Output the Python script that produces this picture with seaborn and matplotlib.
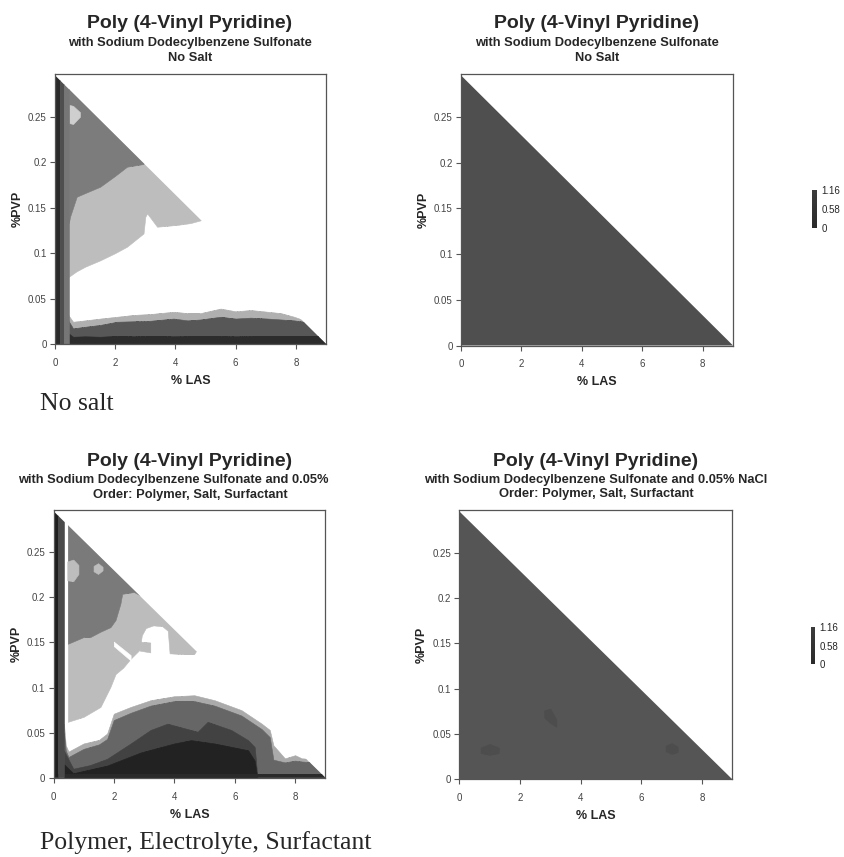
import matplotlib
matplotlib.use("Agg")
import matplotlib.pyplot as plt
from matplotlib.patches import Polygon
from matplotlib.cm import ScalarMappable
from matplotlib.colors import Normalize
import seaborn as sns

# composition range (triangle of allowed compositions)
LAS_MAX = 9.0
PVP_MAX = 0.2955
X_TICKS = [0, 2, 4, 6, 8]
Y_TICKS = [0, 0.05, 0.1, 0.15, 0.2, 0.25]
Y_TICK_LABELS = ["0", "0.05", "0.1", "0.15", "0.2", "0.25"]
CBAR_TICKS = [0, 0.58, 1.16]
CBAR_LABELS = ["0", "0.58", "1.16"]

TITLE = "Poly (4-Vinyl Pyridine)"
SUB_A = ["with Sodium Dodecylbenzene Sulfonate", "No Salt"]
SUB_C = ["with Sodium Dodecylbenzene Sulfonate and 0.05%", "Order: Polymer, Salt, Surfactant"]
SUB_D = ["with Sodium Dodecylbenzene Sulfonate and 0.05% NaCl", "Order: Polymer, Salt, Surfactant"]
NOTE_TOP = "No salt"
NOTE_BOTTOM = "Polymer, Electrolyte, Surfactant"

# ---- panel A : no salt, contour bands (x = %LAS, y = %PVP boundary)
A_STRIP_X = [0, 0.15, 0.3, 0.46]
A_STRIP_C = ["#2a2a2a", "#4e4e4e", "#767676"]

A_BASE_X = [0.44, 0.6, 1.0, 1.5, 2.06, 2.61, 3.17, 3.94, 4.4, 4.83, 5.5, 6.0, 6.5, 7.06, 7.5, 7.94, 8.28, 9.0]
A_LIGHT_TOP = [0.032, 0.0245, 0.026, 0.028, 0.030, 0.032, 0.033, 0.0355, 0.034, 0.034, 0.039, 0.036, 0.0374, 0.0355, 0.034, 0.030, 0.026, 0.02]
A_DARK_TOP = [0.026, 0.0172, 0.019, 0.021, 0.0245, 0.025, 0.0256, 0.028, 0.026, 0.027, 0.030, 0.028, 0.029, 0.028, 0.027, 0.026, 0.0245, 0.02]
A_BLACK_TOP = [0.012, 0.008, 0.0085, 0.008, 0.009, 0.0085, 0.009, 0.0085, 0.009, 0.009, 0.009, 0.0085, 0.009, 0.009, 0.009, 0.009, 0.009, 0.009]

A_UP_X = [0.46, 0.72, 1.0, 1.5, 2.0, 2.39, 2.94, 3.0, 3.06, 3.39, 4.06, 4.5, 4.83, 5.2]
A_LIGHT_LOW = [0.074, 0.080, 0.085, 0.092, 0.100, 0.107, 0.1216, 0.14, 0.1436, 0.129, 0.131, 0.133, 0.136, 0.15]
A_DARK_X = [0.46, 0.5, 0.72, 1.0, 1.5, 2.0, 2.39, 2.94, 3.3]
A_DARK_LOW = [0.133, 0.14, 0.162, 0.166, 0.173, 0.185, 0.195, 0.198, 0.26]
A_PATCH_X = [0.47, 0.6, 0.83]
A_PATCH_LOW = [0.243, 0.242, 0.25]
A_PATCH_HIGH = [0.263, 0.262, 0.255]

# ---- panel C : polymer, salt, surfactant
C_STRIP_X = [0, 0.15, 0.34]
C_STRIP_C = ["#1e1e1e", "#4a4a4a"]

C_MOUND_X = [0.34, 0.4, 0.49, 0.99, 1.5, 1.77, 1.99, 2.55, 3.21, 3.99, 4.66, 5.33, 6.22, 6.89, 7.16, 7.28, 7.66, 8.0, 8.22, 9.0]
C_LIGHT_TOP = [0.06, 0.036, 0.029, 0.038, 0.042, 0.049, 0.071, 0.0785, 0.086, 0.0904, 0.0915, 0.086, 0.075, 0.060, 0.053, 0.036, 0.0215, 0.025, 0.0215, 0.02]
C_MID_TOP = [0.05, 0.03, 0.023, 0.032, 0.037, 0.043, 0.064, 0.072, 0.080, 0.085, 0.085, 0.080, 0.069, 0.054, 0.045, 0.020, 0.017, 0.019, 0.018, 0.016]
C_DEEP_X = [0.34, 0.65, 1.2, 1.77, 2.55, 3.21, 3.77, 4.21, 4.77, 5.1, 5.88, 6.44, 6.66, 6.7, 6.75]
C_DEEP_TOP = [0.03, 0.010, 0.014, 0.021, 0.038, 0.053, 0.060, 0.056, 0.051, 0.062, 0.053, 0.0417, 0.034, 0.02, 0.0]
C_BLACK_X = [0.34, 0.65, 1.77, 2.88, 3.99, 4.55, 5.33, 6.44, 6.66, 6.7, 6.75]
C_BLACK_TOP = [0.015, 0.005, 0.0135, 0.028, 0.038, 0.0417, 0.038, 0.0305, 0.019, 0.01, 0.0]

C_UP_X = [0.47, 0.99, 1.55, 1.88, 2.05, 2.3, 2.55, 2.85, 2.92, 3.05, 3.3, 3.6, 3.78, 3.84, 4.3, 4.65, 4.9]
C_LIGHT_LOW = [0.062, 0.0675, 0.0785, 0.1007, 0.115, 0.122, 0.132, 0.142, 0.158, 0.166, 0.169, 0.168, 0.163, 0.138, 0.137, 0.137, 0.15]
C_DARK_X = [0.47, 0.99, 1.21, 1.55, 1.88, 2.05, 2.21, 2.27, 2.66, 3.0, 3.2]
C_DARK_LOW = [0.1486, 0.156, 0.156, 0.162, 0.167, 0.175, 0.193, 0.204, 0.206, 0.2, 0.25]
C_UNDER_X = [2.85, 3.2]
C_UNDER_LOW = [0.141, 0.139]
C_UNDER_HIGH = [0.151, 0.150]
C_FINGER_X = [1.99, 2.55]
C_FINGER_LOW = [0.146, 0.130]
C_FINGER_HIGH = [0.151, 0.136]
C_PATCH1_X = [0.45, 0.65, 0.82]
C_PATCH1_LOW = [0.219, 0.218, 0.226]
C_PATCH1_HIGH = [0.240, 0.242, 0.236]
C_PATCH2_X = [1.32, 1.47, 1.62]
C_PATCH2_LOW = [0.229, 0.226, 0.230]
C_PATCH2_HIGH = [0.235, 0.238, 0.234]

# ---- panels B and D : uniform response
B_COLOR = "#4f4f4f"
D_COLOR = "#555555"
D_SPOT_X = [[0.7, 1.0, 1.3], [2.8, 3.0, 3.2], [6.8, 7.0, 7.2]]
D_SPOT_LOW = [[0.029, 0.027, 0.029], [0.068, 0.062, 0.058], [0.031, 0.028, 0.030]]
D_SPOT_HIGH = [[0.035, 0.039, 0.035], [0.076, 0.078, 0.066], [0.037, 0.040, 0.036]]

W, H = 845, 857
sns.set_theme(style="white")
plt.rcParams["font.family"] = ["Liberation Sans", "DejaVu Sans"]
fig = plt.figure(figsize=(W / 100, H / 100), dpi=100)


def axes_px(left, top, right, bottom):
    return fig.add_axes([left / W, 1 - bottom / H, (right - left) / W, (bottom - top) / H])


def band(ax, clip, x, lo, hi, color):
    c = ax.fill_between(x, lo, hi, color=color, linewidth=0.4, edgecolor=color)
    c.set_clip_path(clip)


def setup(ax):
    ax.set_xlim(0, LAS_MAX)
    ax.set_ylim(0, 0.297)
    ax.set_xticks(X_TICKS)
    ax.set_yticks(Y_TICKS)
    ax.set_yticklabels(Y_TICK_LABELS)
    ax.tick_params(direction="out", length=3.5, width=0.8, color="#555555",
                   labelsize=7, labelcolor="#444444", pad=2.5,
                   bottom=True, left=True)
    ax.tick_params(axis="x", pad=6.5)
    for s in ax.spines.values():
        s.set_color("#555555")
        s.set_linewidth(0.9)
    ax.set_xlabel("% LAS", fontsize=9, fontweight="bold", labelpad=5)
    ax.set_ylabel("%PVP", fontsize=9, fontweight="bold", labelpad=3)
    clip = Polygon([(0, 0), (0, PVP_MAX), (LAS_MAX, 0)], closed=True, transform=ax.transData)
    return clip


def titles(cx, ys, lines, left=None):
    fig.text(cx / W, 1 - ys[0] / H, TITLE, ha="center", va="center", fontsize=14, fontweight="bold")
    for y, s in zip(ys[1:], lines):
        if left is not None and "0.05%" in s and "NaCl" not in s:
            fig.text(left / W, 1 - y / H, s, ha="left", va="center", fontsize=9.3, fontweight="bold")
        else:
            fig.text(cx / W, 1 - y / H, s, ha="center", va="center", fontsize=9.3, fontweight="bold")


def colorbar(left, top, right, bottom):
    cax = axes_px(left, top, right, bottom)
    cmap = sns.blend_palette(["#2a2a2a", "#3c3c3c"], as_cmap=True)
    cb = fig.colorbar(ScalarMappable(Normalize(0, 1.16), cmap), cax=cax, ticks=CBAR_TICKS)
    cb.ax.set_yticklabels(CBAR_LABELS)
    cb.outline.set_visible(False)
    cb.ax.tick_params(length=0, labelsize=7, pad=3)


# panel A
axA = axes_px(55, 74, 326, 344)
clipA = setup(axA)
band(axA, clipA, A_BASE_X, 0, A_LIGHT_TOP, "#b0b0b0")
band(axA, clipA, A_BASE_X, 0, A_DARK_TOP, "#575757")
band(axA, clipA, A_BASE_X, 0, A_BLACK_TOP, "#2c2c2c")
band(axA, clipA, A_UP_X, A_LIGHT_LOW, PVP_MAX, "#bdbdbd")
band(axA, clipA, A_DARK_X, A_DARK_LOW, PVP_MAX, "#7c7c7c")
band(axA, clipA, A_PATCH_X, A_PATCH_LOW, A_PATCH_HIGH, "#cfcfcf")
for i, col in enumerate(A_STRIP_C):
    band(axA, clipA, A_STRIP_X[i:i + 2], 0, PVP_MAX, col)
titles(190, [23, 43, 58], SUB_A)

# panel B
axB = axes_px(461, 74, 733, 345.5)
clipB = setup(axB)
band(axB, clipB, [0, LAS_MAX], 0, PVP_MAX, B_COLOR)
titles(597, [23, 43, 58], SUB_A)
colorbar(812.5, 190, 817, 228)

# panel C
axC = axes_px(53.7, 510, 325.3, 777.7)
clipC = setup(axC)
band(axC, clipC, C_MOUND_X, 0, C_LIGHT_TOP, "#aaaaaa")
band(axC, clipC, C_MOUND_X, 0, C_MID_TOP, "#666666")
band(axC, clipC, C_DEEP_X, 0, C_DEEP_TOP, "#424242")
band(axC, clipC, C_BLACK_X, 0, C_BLACK_TOP, "#222222")
band(axC, clipC, [0, LAS_MAX], 0, [0.004, 0.004], "#2a2a2a")
band(axC, clipC, C_UP_X, C_LIGHT_LOW, PVP_MAX, "#bcbcbc")
band(axC, clipC, C_UNDER_X, C_UNDER_LOW, C_UNDER_HIGH, "#bcbcbc")
band(axC, clipC, C_DARK_X, C_DARK_LOW, PVP_MAX, "#7a7a7a")
band(axC, clipC, C_FINGER_X, C_FINGER_LOW, C_FINGER_HIGH, "#ffffff")
band(axC, clipC, C_PATCH1_X, C_PATCH1_LOW, C_PATCH1_HIGH, "#bdbdbd")
band(axC, clipC, C_PATCH2_X, C_PATCH2_LOW, C_PATCH2_HIGH, "#bdbdbd")
for i, col in enumerate(C_STRIP_C):
    band(axC, clipC, C_STRIP_X[i:i + 2], 0, PVP_MAX, col)
titles(190, [461, 480, 495], SUB_C, left=18)

# panel D
axD = axes_px(459.3, 510, 732.3, 779.3)
clipD = setup(axD)
band(axD, clipD, [0, LAS_MAX], 0, PVP_MAX, D_COLOR)
for sx, lo, hi in zip(D_SPOT_X, D_SPOT_LOW, D_SPOT_HIGH):
    band(axD, clipD, sx, lo, hi, "#4d4d4d")
titles(596, [461, 479.5, 494.5], SUB_D)
colorbar(810.7, 627, 815, 664)

# handwritten-style notes
fig.text(40 / W, 1 - 404 / H, NOTE_TOP, ha="left", va="center", fontsize=18.5,
         family=["Liberation Serif", "DejaVu Serif"])
fig.text(40 / W, 1 - 843 / H, NOTE_BOTTOM, ha="left", va="center", fontsize=18.5,
         family=["Liberation Serif", "DejaVu Serif"])

fig.savefig("out.png", dpi=100)
